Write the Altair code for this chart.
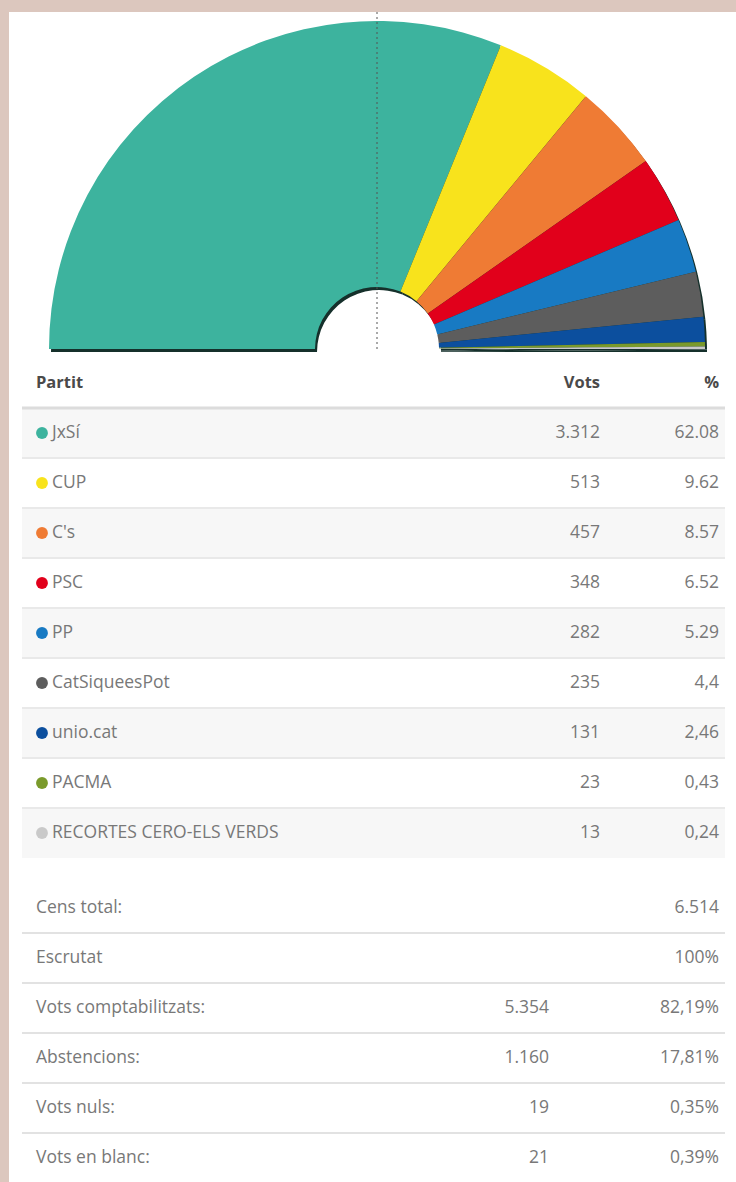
import math
import altair as alt
import pandas as pd

# ---- data ----
parties = ["JxSí", "CUP", "C's", "PSC", "PP", "CatSiqueesPot", "unio.cat", "PACMA",
           "RECORTES CERO-ELS VERDS"]
votes = [3312, 513, 457, 348, 282, 235, 131, 23, 13]
pct_labels = ["62.08", "9.62", "8.57", "6.52", "5.29", "4,4", "2,46", "0,43", "0,24"]
colors = ["#3db39e", "#f8e31c", "#ef7b34", "#e1001b", "#187ac3", "#5d5d5d", "#0c4f9e",
          "#7a9a2b", "#c9c9c9"]

header_labels = ["Partit", "Vots", "%"]

summary_labels = ["Cens total:", "Escrutat", "Vots comptabilitzats:", "Abstencions:",
                  "Vots nuls:", "Vots en blanc:"]
summary_counts = ["", "", "5.354", "1.160", "19", "21"]
summary_pcts = ["6.514", "100%", "82,19%", "17,81%", "0,35%", "0,39%"]

# ---- tables ----
n = len(parties)
party_df = pd.DataFrame({
    "party": parties,
    "votes": votes,
    "votes_label": [f"{v:,}".replace(",", ".") for v in votes],
    "pct": pct_labels,
    "idx": list(range(n)),
    "row": [i + 1 for i in range(n)],
})
party_df["row_top"] = party_df["row"] - 0.5
party_df["row_bot"] = party_df["row"] + 0.5
stripe_df = party_df[party_df["idx"] % 2 == 0]

summary_df = pd.DataFrame({
    "label": summary_labels,
    "count": summary_counts,
    "pct": summary_pcts,
    "row": [n + 1.5 + i for i in range(len(summary_labels))],
})

header_df = pd.DataFrame({"label": header_labels, "row": [0, 0, 0]})

sep_party = pd.DataFrame({"row": [i + 1.5 for i in range(n - 1)]})
sep_header = pd.DataFrame({"row": [0.5]})
sep_summary = pd.DataFrame({"row": [summary_df["row"].iloc[i] + 0.5
                                    for i in range(len(summary_labels) - 1)]})

W, H = 727, 1170
Y = lambda f: alt.Y(f, scale=alt.Scale(domain=[-7.42, 15.98], range=[0, H]), axis=None)

CX, CY = 368, 337
R_OUT, R_IN = 328, 62
theta = alt.Theta("votes:Q", stack=True,
                  scale=alt.Scale(range=[-math.pi / 2, math.pi / 2]))

shadow = alt.Chart(party_df).mark_arc(radius=R_OUT, radius2=R_IN, color="#15302b").encode(
    theta=theta, order=alt.Order("idx:Q"),
    x=alt.value(CX + 2), y=alt.value(CY + 3),
)
arc = alt.Chart(party_df).mark_arc(radius=R_OUT, radius2=R_IN, strokeWidth=0).encode(
    theta=theta, order=alt.Order("idx:Q"),
    color=alt.Color("party:N", scale=alt.Scale(domain=parties, range=colors), legend=None),
    x=alt.value(CX), y=alt.value(CY),
)
midline = alt.Chart(header_df.head(1)).mark_rule(color="#555555", strokeDash=[2, 3],
                                                 strokeWidth=1).encode(
    x=alt.value(CX), y=alt.value(0), y2=alt.value(CY + 2)
)

X0, X1 = 13, 716
stripes = alt.Chart(stripe_df).mark_rect(color="#f7f7f7").encode(
    x=alt.value(X0), x2=alt.value(X1), y=Y("row_top:Q"), y2="row_bot:Q")
rule_h = alt.Chart(sep_header).mark_rule(color="#dcdcdc", strokeWidth=3).encode(
    x=alt.value(X0), x2=alt.value(X1), y=Y("row:Q"))
rule_p = alt.Chart(sep_party).mark_rule(color="#e9e9e9", strokeWidth=2).encode(
    x=alt.value(X0), x2=alt.value(X1), y=Y("row:Q"))
rule_s = alt.Chart(sep_summary).mark_rule(color="#e2e2e2", strokeWidth=2).encode(
    x=alt.value(X0), x2=alt.value(X1), y=Y("row:Q"))

FS = 17.5
TXT = "#787878"
hdr_left = alt.Chart(header_df.head(1)).mark_text(
    align="left", fontSize=FS - 1, fontWeight="bold", color="#4a4a4a").encode(
    x=alt.value(27), y=Y("row:Q"), text="label:N")
hdr_right = alt.Chart(header_df.tail(2).assign(xp=[591, 710])).mark_text(
    align="right", fontSize=FS - 1, fontWeight="bold", color="#4a4a4a").encode(
    x=alt.X("xp:Q", scale=None), y=Y("row:Q"), text="label:N")

dots = alt.Chart(party_df).mark_circle(size=140, opacity=1).encode(
    x=alt.value(33), y=Y("row:Q"),
    color=alt.Color("party:N", scale=alt.Scale(domain=parties, range=colors), legend=None))
names = alt.Chart(party_df).mark_text(align="left", fontSize=FS, color=TXT).encode(
    x=alt.value(43), y=Y("row:Q"), text="party:N")
vcol = alt.Chart(party_df).mark_text(align="right", fontSize=FS, color=TXT).encode(
    x=alt.value(591), y=Y("row:Q"), text="votes_label:N")
pcol = alt.Chart(party_df).mark_text(align="right", fontSize=FS, color=TXT).encode(
    x=alt.value(710), y=Y("row:Q"), text="pct:N")

s_lab = alt.Chart(summary_df).mark_text(align="left", fontSize=FS, color=TXT).encode(
    x=alt.value(27), y=Y("row:Q"), text="label:N")
s_cnt = alt.Chart(summary_df).mark_text(align="right", fontSize=FS, color=TXT).encode(
    x=alt.value(540), y=Y("row:Q"), text="count:N")
s_pct = alt.Chart(summary_df).mark_text(align="right", fontSize=FS, color=TXT).encode(
    x=alt.value(710), y=Y("row:Q"), text="pct:N")

chart = alt.layer(
    stripes, rule_h, rule_p, rule_s,
    shadow, arc, midline,
    hdr_left, hdr_right, dots, names, vcol, pcol,
    s_lab, s_cnt, s_pct,
).properties(
    width=W, height=H,
    autosize=alt.AutoSizeParams(type="none"),
    padding={"left": 9, "top": 12, "right": 0, "bottom": 0},
    background="#dcc7be",
).configure_view(
    fill="white", stroke=None,
).configure_text(font="Open Sans")

chart.save("out.html", embed_options={"renderer": "svg", "actions": False})
